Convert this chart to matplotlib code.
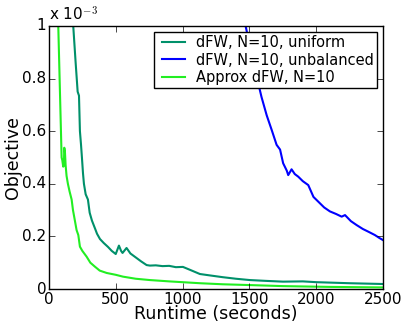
import matplotlib
matplotlib.use('Agg')
import matplotlib.pyplot as plt
from matplotlib.ticker import FormatStrFormatter

# objective values in units of 1e-3
uni_t = [182, 200, 215, 225, 232, 240, 247, 255, 262, 275, 292, 305, 322, 345, 360, 382, 410,
         442, 470, 500, 524, 540, 551, 581, 610, 650, 690, 731, 756, 800, 850, 900, 950,
         1003, 1060, 1130, 1200, 1300, 1400, 1504, 1620, 1752, 1900, 2000, 2250, 2500]
uni_y = [1.0, 0.86, 0.75, 0.735, 0.6, 0.55, 0.5, 0.44, 0.40, 0.36, 0.34, 0.29, 0.26, 0.23,
         0.21, 0.19, 0.175, 0.16, 0.145, 0.133, 0.165, 0.145, 0.137, 0.156, 0.135, 0.12, 0.105,
         0.091, 0.089, 0.09, 0.087, 0.088, 0.083, 0.084, 0.072, 0.057, 0.052, 0.045, 0.039,
         0.034, 0.031, 0.028, 0.029, 0.026, 0.022, 0.019]

unb_t = [1472, 1530, 1591, 1630, 1667, 1704, 1730, 1753, 1780, 1791, 1816, 1840, 1866, 1900,
         1941, 1980, 2016, 2060, 2103, 2150, 2191, 2216, 2260, 2303, 2350, 2390, 2440, 2470,
         2500]
unb_y = [1.0, 0.86, 0.73, 0.66, 0.605, 0.548, 0.53, 0.478, 0.45, 0.433, 0.455, 0.437, 0.427,
         0.41, 0.395, 0.35, 0.332, 0.31, 0.295, 0.285, 0.275, 0.281, 0.258, 0.243, 0.228,
         0.218, 0.205, 0.195, 0.186]

apx_t = [70, 95, 100, 107, 112, 115, 120, 125, 132, 142, 155, 170, 180, 189, 207, 220, 232,
         250, 282, 310, 344, 380, 432, 500, 554, 650, 756, 900, 1130, 1300, 1500, 1752, 2100,
         2500]
apx_y = [1.0, 0.50, 0.49, 0.465, 0.47, 0.537, 0.52, 0.47, 0.43, 0.40, 0.37, 0.34, 0.30, 0.275,
         0.224, 0.205, 0.161, 0.145, 0.123, 0.10, 0.085, 0.07, 0.061, 0.054, 0.047, 0.039,
         0.034, 0.029, 0.022, 0.018, 0.015, 0.011, 0.008, 0.006]

plt.style.use('classic')
plt.rcParams['font.family'] = 'DejaVu Sans'

fig = plt.figure(figsize=(4.01, 3.24), dpi=100, facecolor='white')
ax = fig.add_axes([0.122, 0.108, 0.833, 0.812])

ax.plot(uni_t, uni_y, color='#00906a', lw=1.5, label='dFW, N=10, uniform')
ax.plot(unb_t, unb_y, color='#0000ff', lw=1.5, label='dFW, N=10, unbalanced')
ax.plot(apx_t, apx_y, color='#22ee22', lw=1.5, label='Approx dFW, N=10')

ax.set_xlim(0, 2500)
ax.set_ylim(0, 1)
ax.set_xticks([0, 500, 1000, 1500, 2000, 2500])
ax.set_yticks([0, 0.2, 0.4, 0.6, 0.8, 1])
ax.yaxis.set_major_formatter(FormatStrFormatter('%g'))
ax.tick_params(labelsize=11, pad=2)
ax.text(0.0, 1.01, r'x 10$^{-3}$', transform=ax.transAxes, fontsize=11, va='bottom')

ax.set_xlabel('Runtime (seconds)', fontsize=12.5, labelpad=-1)
ax.set_ylabel('Objective', fontsize=12.5, labelpad=0)

ax.legend(loc='upper right', fontsize=10.5, handlelength=2.2, borderpad=0.25,
          labelspacing=0.15, handletextpad=0.4, borderaxespad=0.4, frameon=True,
          fancybox=False)

fig.savefig('out.png', dpi=100, facecolor='white')
